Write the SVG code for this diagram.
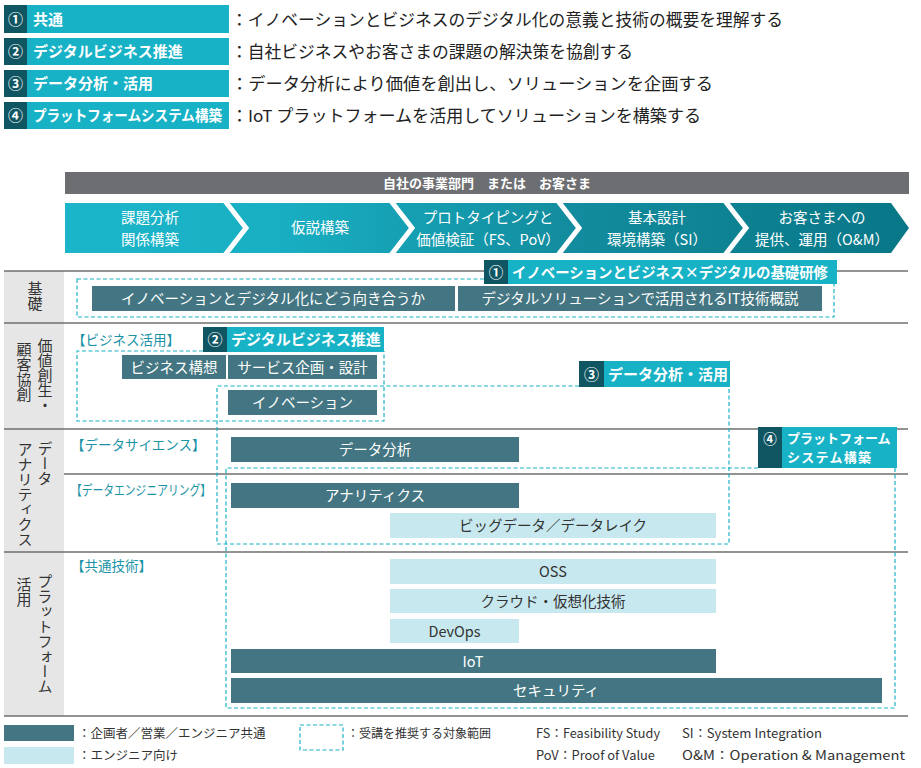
<svg xmlns="http://www.w3.org/2000/svg" width="921" height="768" viewBox="0 0 921 768">
<defs>
<style>
text{font-family:"Noto Sans CJK JP","Noto Sans",sans-serif;}
.num{font-size:15px;font-weight:bold;fill:#fff;text-anchor:middle}
.lbl{font-size:15px;font-weight:bold;fill:#fff}
.desc{font-size:16.5px;fill:#222}
.chev{font-size:14.5px;fill:#fff;text-anchor:middle}
.vt{font-size:15px;fill:#333;writing-mode:vertical-rl}
.cat{font-size:13.5px;fill:#1a93a6}
.dk{fill:#437682}
.lt{fill:#c7e8ee}
.bt{font-size:14.5px;fill:#fff;text-anchor:middle}
.btd{font-size:14.5px;fill:#333;text-anchor:middle}
.grid{stroke:#6f6f6f;stroke-width:1.5;fill:none}
.dash{stroke:#1ab1c6;stroke-width:1.2;stroke-dasharray:4 2.5;fill:none}
.ldark{fill:#0f5562}
.lcyan{fill:#18b2c6}
.leg{font-size:12.5px;fill:#333}
</style>
<linearGradient id="chevGrad" x1="65" y1="0" x2="909" y2="0" gradientUnits="userSpaceOnUse">
<stop offset="0" stop-color="#1bb5c9"/>
<stop offset="0.25" stop-color="#19afc3"/>
<stop offset="0.6" stop-color="#128c9e"/>
<stop offset="1" stop-color="#087787"/>
</linearGradient>
</defs>
<rect width="921" height="768" fill="#fff"/>

<!-- top legend -->
<g id="legend-1">
<rect x="4" y="5" width="23" height="28" class="ldark"/>
<rect x="27" y="5" width="202" height="28" class="lcyan"/>
<text x="15.5" y="24.5" class="num">①</text>
<text x="33" y="24.5" class="lbl">共通</text>
<text x="231" y="25.5" class="desc" textLength="552" lengthAdjust="spacingAndGlyphs">：イノベーションとビジネスのデジタル化の意義と技術の概要を理解する</text>
</g>
<g id="legend-2">
<rect x="4" y="38" width="23" height="27" class="ldark"/>
<rect x="27" y="38" width="202" height="27" class="lcyan"/>
<text x="15.5" y="57" class="num">②</text>
<text x="33" y="57" class="lbl">デジタルビジネス推進</text>
<text x="231" y="58" class="desc" textLength="402" lengthAdjust="spacingAndGlyphs">：自社ビジネスやお客さまの課題の解決策を協創する</text>
</g>
<g id="legend-3">
<rect x="4" y="70" width="23" height="27" class="ldark"/>
<rect x="27" y="70" width="202" height="27" class="lcyan"/>
<text x="15.5" y="89" class="num">③</text>
<text x="33" y="89" class="lbl">データ分析・活用</text>
<text x="231" y="90" class="desc" textLength="482" lengthAdjust="spacingAndGlyphs">：データ分析により価値を創出し、ソリューションを企画する</text>
</g>
<g id="legend-4">
<rect x="4" y="102" width="23" height="27" class="ldark"/>
<rect x="27" y="102" width="202" height="27" class="lcyan"/>
<text x="15.5" y="121" class="num">④</text>
<text x="33" y="121" class="lbl" textLength="189" lengthAdjust="spacingAndGlyphs">プラットフォームシステム構築</text>
<text x="231" y="122" class="desc" textLength="470" lengthAdjust="spacingAndGlyphs">：IoT プラットフォームを活用してソリューションを構築する</text>
</g>

<!-- header -->
<g id="header">
<rect x="65" y="172" width="844" height="22" fill="#6d6e71"/>
<text x="487" y="188" font-size="13" font-weight="bold" fill="#fff" text-anchor="middle">自社の事業部門　または　お客さま</text>
</g>
<g id="process">
<polygon points="65,203 891,203 909,228 891,253 65,253" fill="url(#chevGrad)"/>
<g stroke="#fff" stroke-width="5" fill="none">
<polyline points="225,201 246,228 225,255"/>
<polyline points="391,201 412,228 391,255"/>
<polyline points="558,201 579,228 558,255"/>
<polyline points="725,201 746,228 725,255"/>
</g>
<text x="150" y="223" class="chev">課題分析</text>
<text x="150" y="245" class="chev">関係構築</text>
<text x="320" y="233" class="chev">仮説構築</text>
<text x="488" y="223" class="chev">プロトタイピングと</text>
<text x="488" y="245" class="chev">価値検証（FS、PoV）</text>
<text x="657" y="223" class="chev">基本設計</text>
<text x="657" y="245" class="chev">環境構築（SI）</text>
<text x="822" y="223" class="chev">お客さまへの</text>
<text x="822" y="245" class="chev">提供、運用（O&amp;M）</text>
</g>

<!-- grid -->
<g id="grid">
<rect x="4" y="271" width="60" height="445" fill="#e6e6e6"/>
<line x1="4" y1="271" x2="908" y2="271" class="grid"/>
<line x1="4" y1="323" x2="908" y2="323" class="grid"/>
<line x1="4" y1="429" x2="908" y2="429" class="grid"/>
<line x1="64" y1="474" x2="908" y2="474" class="grid"/>
<line x1="4" y1="552" x2="908" y2="552" class="grid"/>
<line x1="4" y1="716" x2="908" y2="716" class="grid"/>
</g>

<g id="row-labels">
<text x="35" y="281" class="vt">基礎</text>
<text x="45" y="338" class="vt">価値創生・</text>
<text x="24" y="342" class="vt">顧客協創</text>
<text x="45" y="441" class="vt">データ</text>
<text x="25" y="442" class="vt">アナリティクス</text>
<text x="45" y="574" class="vt">プラットフォーム</text>
<text x="24" y="577" class="vt">活用</text>
</g>

<g id="categories">
<text x="72" y="345" class="cat">【ビジネス活用】</text>
<text x="71" y="450" class="cat">【データサイエンス】</text>
<text x="71" y="495" class="cat" textLength="140" lengthAdjust="spacingAndGlyphs">【データエンジニアリング】</text>
<text x="71" y="571" class="cat">【共通技術】</text>
</g>

<!-- bars -->
<g id="bar-innovation-digital"><rect x="92" y="286" width="363" height="25" class="dk"/><text x="273" y="304" class="bt">イノベーションとデジタル化にどう向き合うか</text></g>
<g id="bar-it-overview"><rect x="458" y="286" width="364" height="25" class="dk"/><text x="640" y="304" class="bt">デジタルソリューションで活用されるIT技術概説</text></g>
<g id="bar-biz-concept"><rect x="122" y="355" width="104" height="24" class="dk"/><text x="174" y="372.5" class="bt">ビジネス構想</text></g>
<g id="bar-service"><rect x="228" y="355" width="149" height="24" class="dk"/><text x="302.5" y="372.5" class="bt">サービス企画・設計</text></g>
<g id="bar-innovation"><rect x="228" y="390" width="149" height="25" class="dk"/><text x="302.5" y="408" class="bt">イノベーション</text></g>
<g id="bar-data-analysis"><rect x="231" y="437" width="288" height="25" class="dk"/><text x="375" y="455" class="bt">データ分析</text></g>
<g id="bar-analytics"><rect x="231" y="483" width="288" height="25" class="dk"/><text x="375" y="501" class="bt">アナリティクス</text></g>
<g id="bar-bigdata"><rect x="390" y="513" width="326" height="25" class="lt"/><text x="553" y="531" class="btd">ビッグデータ／データレイク</text></g>
<g id="bar-oss"><rect x="390" y="559" width="326" height="25" class="lt"/><text x="553" y="577" class="btd">OSS</text></g>
<g id="bar-cloud"><rect x="390" y="589" width="326" height="24" class="lt"/><text x="553" y="606.5" class="btd">クラウド・仮想化技術</text></g>
<g id="bar-devops"><rect x="390" y="619" width="129" height="24" class="lt"/><text x="454.5" y="636.5" class="btd">DevOps</text></g>
<g id="bar-iot"><rect x="231" y="649" width="485" height="24" class="dk"/><text x="473" y="666.5" class="bt">IoT</text></g>
<g id="bar-security"><rect x="231" y="678" width="651" height="25" class="dk"/><text x="556" y="696" class="bt">セキュリティ</text></g>

<!-- dashed scopes (connectors group) -->
<g id="scopes">
<rect x="77" y="279" width="757" height="38" class="dash"/>
<polyline points="203,351 77,351 77,421 384,421 384,351" class="dash"/>
<polyline points="579,386 217,386 217,544 729,544 729,387" class="dash"/>
<polyline points="758,468 226,468 226,708 895,708 895,468" class="dash"/>
</g>

<!-- course labels -->
<g id="course-1">
<rect x="484" y="260" width="24" height="24" class="ldark"/>
<rect x="508" y="260" width="329" height="24" class="lcyan"/>
<text x="496" y="277.5" class="num" style="font-size:14.5px">①</text>
<text x="512" y="277.5" class="lbl" style="font-size:14.5px" textLength="316" lengthAdjust="spacingAndGlyphs">イノベーションとビジネス×デジタルの基礎研修</text>
</g>
<g id="course-2">
<rect x="203" y="327" width="24" height="25" class="ldark"/>
<rect x="227" y="327" width="157" height="25" class="lcyan"/>
<text x="215" y="345" class="num">②</text>
<text x="231" y="345" class="lbl">デジタルビジネス推進</text>
</g>
<g id="course-3">
<rect x="579" y="361" width="25" height="26" class="ldark"/>
<rect x="604" y="361" width="126" height="26" class="lcyan"/>
<text x="591.5" y="379.5" class="num">③</text>
<text x="608" y="379.5" class="lbl">データ分析・活用</text>
</g>
<g id="course-4">
<rect x="758" y="427" width="24" height="41" class="ldark"/>
<rect x="782" y="427" width="115" height="41" class="lcyan"/>
<text x="770" y="443.5" class="num" style="font-size:13.5px">④</text>
<text class="lbl" style="font-size:13px"><tspan x="787" y="443">プラットフォーム</tspan><tspan x="787" y="462" letter-spacing="1.3">システム構築</tspan></text>
</g>

<!-- bottom legend -->
<g id="bottom-legend">
<rect x="4" y="725" width="70" height="16" class="dk"/>
<rect x="4" y="747" width="70" height="17" class="lt"/>
<text x="78" y="738" class="leg">：企画者／営業／エンジニア共通</text>
<text x="78" y="760" class="leg">：エンジニア向け</text>
<rect x="300" y="725" width="43" height="25" class="dash"/>
<text x="347" y="738" class="leg" style="font-size:12px">：受講を推奨する対象範囲</text>
<text x="536" y="738" class="leg" textLength="124" lengthAdjust="spacingAndGlyphs">FS：Feasibility Study</text>
<text x="536" y="760" class="leg" textLength="119" lengthAdjust="spacingAndGlyphs">PoV：Proof of Value</text>
<text x="682" y="738" class="leg" textLength="140" lengthAdjust="spacingAndGlyphs">SI：System Integration</text>
<text x="682" y="760" class="leg" textLength="223" lengthAdjust="spacingAndGlyphs">O&amp;M：Operation &amp; Management</text>
</g>
</svg>
